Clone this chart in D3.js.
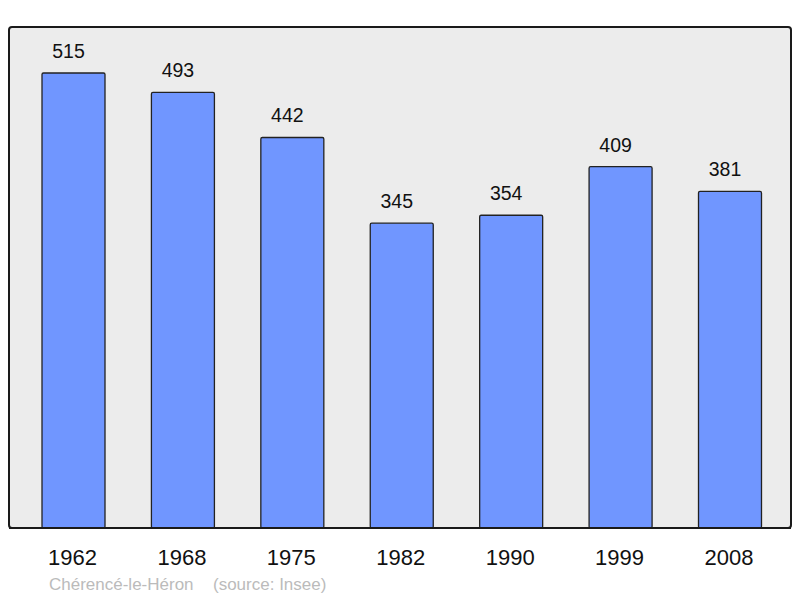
<!DOCTYPE html>
<html>
<head>
<meta charset="utf-8">
<script src="https://cdn.jsdelivr.net/npm/d3@7"></script>
<style>
  body { margin: 0; background: #fff; }
  text { font-family: "Liberation Sans", Arial, sans-serif; }
</style>
</head>
<body>
<div id="chart"></div>
<script>
'use strict';

const years = ['1962', '1968', '1975', '1982', '1990', '1999', '2008'];
const population = [515, 493, 442, 345, 354, 409, 381];
const commune = 'Chérencé-le-Héron';
const source = '(source: Insee)';

const svgWidth = 800, svgHeight = 598;
const baseline = 528;

const svg = d3.select('#chart')
              .append('svg')
                .attr('width', svgWidth)
                .attr('height', svgHeight);

// plot frame
svg.append('rect')
   .attr('x', 9).attr('y', 27)
   .attr('width', 782).attr('height', 501)
   .attr('rx', 3)
   .attr('fill', '#ececec')
   .attr('stroke', '#1a1a1a')
   .attr('stroke-width', 2);

const x = d3.scalePoint().domain(years).range([73.5, 730]);
const y = d3.scaleLinear().domain([0, 515]).range([baseline, 73]);
const barWidth = 63;

const data = years.map((yr, i) => ({year: yr, value: population[i]}));

svg.selectAll('rect.bar')
   .data(data)
   .enter()
   .append('rect')
     .attr('class', 'bar')
     .attr('x', d => x(d.year) - barWidth / 2)
     .attr('y', d => y(d.value))
     .attr('width', barWidth)
     .attr('height', d => baseline - y(d.value))
     .attr('rx', 1.5)
     .attr('fill', '#7096ff')
     .attr('stroke', '#222')
     .attr('stroke-width', 1.3);

// value labels (sit a little left of the bar centre, as in the original)
svg.selectAll('text.value')
   .data(data)
   .enter()
   .append('text')
     .attr('class', 'value')
     .attr('x', d => x(d.year) - 5)
     .attr('y', d => y(d.value) - 15)
     .attr('text-anchor', 'middle')
     .attr('font-size', 19.5)
     .attr('fill', '#111')
     .text(d => d.value);

// frame bottom redrawn over bars
svg.append('line')
   .attr('x1', 9).attr('x2', 791)
   .attr('y1', baseline).attr('y2', baseline)
   .attr('stroke', '#1a1a1a').attr('stroke-width', 2);

// year axis
const axis = svg.append('g')
                .attr('transform', `translate(-1.5, ${baseline})`)
                .call(d3.axisBottom(x).tickSize(0).tickPadding(0));
axis.select('.domain').remove();
axis.selectAll('text')
    .attr('dy', null)
    .attr('y', 37)
    .attr('font-size', 22)
    .attr('font-family', '"Liberation Sans", Arial, sans-serif')
    .attr('fill', '#111');

svg.append('text')
   .attr('x', 49).attr('y', 590)
   .attr('font-size', 17)
   .attr('fill', '#bbb')
   .text(commune);

svg.append('text')
   .attr('x', 213).attr('y', 590)
   .attr('font-size', 17)
   .attr('fill', '#bbb')
   .text(source);
</script>
</body>
</html>
